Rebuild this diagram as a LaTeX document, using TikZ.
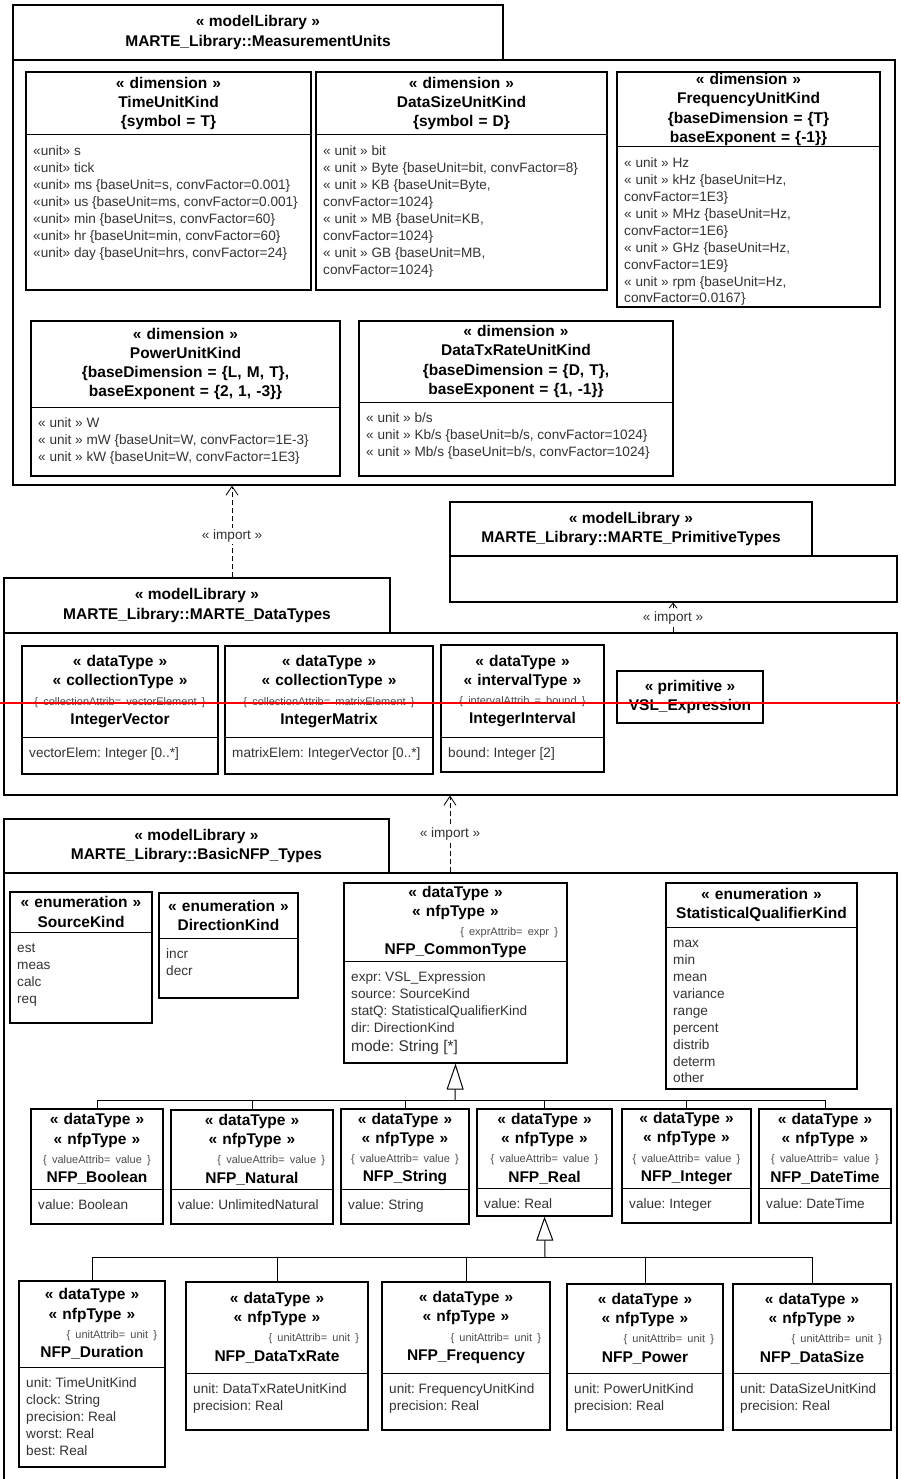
\documentclass[tikz,border=0pt]{standalone}
\usepackage{fontspec}
\setmainfont{Liberation Sans}
\usetikzlibrary{arrows.meta,fit,positioning}
\frenchspacing

\newcommand{\hdrfont}{\fontsize{15.5}{19.3}\selectfont\bfseries}
\newcommand{\attfont}{\fontsize{13.6}{16.9}\selectfont}
\newcommand{\tagfont}{\fontsize{11}{19.3}\selectfont\mdseries\color{black!70}}

% class box: name, x1, y1, x2, y2, divider y, header, attributes
\newcommand{\umlclass}[8]{%
  \node[clsframe, fit={(#2,#3) (#4,#5)}] (#1) {};
  \draw[clsrule] (#1.west |- 0,#6) -- (#1.east |- 0,#6);
  \pgfmathsetmacro{\hdw}{#4-#2-8}
  \node[clshead, text width=\hdw pt] (#1-head) at ({(#2+#4)/2},{(#3+#6)/2}) {#7};
  \node[attrs] (#1-attr) at ({#2+7},{#6+8.7}) {\strut #8};
}
% package: name, tab x1, tab y1, tab x2, tab y2, body x2, body y2, title
\newcommand{\umlpkg}[8]{%
  \node[pkgframe, fit={(#2,#3) (#4,#5)}] (#1-tab) {};
  \node[pkgframe, fit={(#2,#5) (#6,#7)}] (#1) {};
  \node[clshead] (#1-title) at (#1-tab.center) {« modelLibrary »\\#8};
}

\begin{document}
\begin{tikzpicture}[x=1pt, y=-1pt,
    pkgframe/.style={draw, line width=1.1pt, inner sep=0pt},
    clsframe/.style={draw, line width=1.2pt, inner sep=0pt},
    clsrule/.style={line width=1pt},
    clshead/.style={font=\hdrfont, align=center, inner sep=0pt},
    attrs/.style={font=\attfont, align=left, inner sep=0pt, anchor=north west, text=black!80},
    impline/.style={dash pattern=on 5pt off 3pt, line width=0.8pt, -{Straight Barb[length=9pt,width=12pt]}},
    implabel/.style={fill=white, font=\attfont, text=black!80, inner sep=2pt},
    genline/.style={line width=1pt, -{Triangle[open,length=26pt,width=17pt]}},
    busline/.style={line width=1pt}]
\useasboundingbox[fill=white] (0,0) rectangle (900,1479);

% MeasurementUnits
\umlpkg{mu}{13}{5}{503}{60}{895}{485}{MARTE\_Library::MeasurementUnits}
\umlclass{tuk}{26}{72}{311}{290}{135}
  {« dimension »\\TimeUnitKind\\\{symbol = T\}}
  {«unit» s\\«unit» tick\\«unit» ms \{baseUnit=s, convFactor=0.001\}\\«unit» us \{baseUnit=ms, convFactor=0.001\}\\«unit» min \{baseUnit=s, convFactor=60\}\\«unit» hr \{baseUnit=min, convFactor=60\}\\«unit» day \{baseUnit=hrs, convFactor=24\}}
\umlclass{dsuk}{316}{72}{607}{290}{135}
  {« dimension »\\DataSizeUnitKind\\\{symbol = D\}}
  {« unit » bit\\« unit » Byte \{baseUnit=bit, convFactor=8\}\\« unit » KB \{baseUnit=Byte,\\convFactor=1024\}\\« unit » MB \{baseUnit=KB,\\convFactor=1024\}\\« unit » GB \{baseUnit=MB,\\convFactor=1024\}}
\umlclass{fuk}{617}{72}{880}{307}{147}
  {« dimension »\\FrequencyUnitKind\\\{baseDimension = \{T\}\\baseExponent = \{-1\}\}}
  {« unit » Hz\\« unit » kHz \{baseUnit=Hz,\\convFactor=1E3\}\\« unit » MHz \{baseUnit=Hz,\\convFactor=1E6\}\\« unit » GHz \{baseUnit=Hz,\\convFactor=1E9\}\\« unit » rpm \{baseUnit=Hz,\\convFactor=0.0167\}}
\umlclass{puk}{31}{321}{340}{476}{407}
  {« dimension »\\PowerUnitKind\\\{baseDimension = \{L, M, T\},\\baseExponent = \{2, 1, -3\}\}}
  {« unit » W\\« unit » mW \{baseUnit=W, convFactor=1E-3\}\\« unit » kW \{baseUnit=W, convFactor=1E3\}}
\umlclass{dtruk}{359}{321}{673}{476}{402}
  {« dimension »\\DataTxRateUnitKind\\\{baseDimension = \{D, T\},\\baseExponent = \{1, -1\}\}}
  {« unit » b/s\\« unit » Kb/s \{baseUnit=b/s, convFactor=1024\}\\« unit » Mb/s \{baseUnit=b/s, convFactor=1024\}}

% MARTE_PrimitiveTypes
\umlpkg{mpt}{450}{502}{812}{556}{897}{602}{MARTE\_Library::MARTE\_PrimitiveTypes}

% MARTE_DataTypes
\umlpkg{mdt}{4}{578}{390}{633}{897}{795}{MARTE\_Library::MARTE\_DataTypes}
\umlclass{ivec}{22}{646}{218}{774}{737}
  {« dataType »\\« collectionType »\\{\tagfont\{ collectionAttrib= vectorElement \}}\\IntegerVector}
  {vectorElem: Integer [0..*]}
\umlclass{imat}{225}{646}{433}{774}{737}
  {« dataType »\\« collectionType »\\{\tagfont\{ collectionAttrib= matrixElement \}}\\IntegerMatrix}
  {matrixElem: IntegerVector [0..*]}
\umlclass{iint}{441}{645}{604}{772}{737}
  {« dataType »\\« intervalType »\\{\tagfont\{ intervalAttrib = bound \}}\\IntegerInterval}
  {bound: Integer [2]}
\node[clsframe, fit={(617,671) (763,723)}] (vsl) {};
\node[clshead] (vsl-head) at (vsl.center) {« primitive »\\VSL\_Expression};

% BasicNFP_Types
\umlpkg{nfp}{4}{819}{389}{873}{897}{1495}{MARTE\_Library::BasicNFP\_Types}
\umlclass{srck}{10}{892}{152}{1023}{932}
  {« enumeration »\\SourceKind}
  {est\\meas\\calc\\req}
\umlclass{dirk}{159}{893}{298}{998}{938}
  {« enumeration »\\DirectionKind}
  {incr\\decr}
\umlclass{nfpct}{344}{883}{567}{1063}{961}
  {« dataType »\\« nfpType »\\{\tagfont\hspace*{\fill}\{ exprAttrib= expr \}\hspace*{5pt}}\\NFP\_CommonType}
  {expr: VSL\_Expression\\source: SourceKind\\statQ: StatisticalQualifierKind\\dir: DirectionKind\\[2pt]{\fontsize{15.5}{17}\selectfont mode: String [*]}}
\umlclass{sqk}{666}{883}{857}{1089}{927}
  {« enumeration »\\StatisticalQualifierKind}
  {max\\min\\mean\\variance\\range\\percent\\distrib\\determ\\other}

\umlclass{bool}{31}{1109}{163}{1224}{1189}
  {« dataType »\\« nfpType »\\{\tagfont\{ valueAttrib= value \}}\\NFP\_Boolean}
  {value: Boolean}
\umlclass{nat}{171}{1110}{333}{1224}{1189}
  {« dataType »\\« nfpType »\\{\tagfont\hspace*{\fill}\{ valueAttrib= value \}\hspace*{4pt}}\\NFP\_Natural}
  {value: UnlimitedNatural}
\umlclass{str}{341}{1109}{469}{1224}{1189}
  {« dataType »\\« nfpType »\\{\tagfont\{ valueAttrib= value \}}\\NFP\_String}
  {value: String}
\umlclass{real}{477}{1109}{612}{1216}{1188}
  {« dataType »\\« nfpType »\\{\tagfont\{ valueAttrib= value \}}\\NFP\_Real}
  {value: Real}
\umlclass{int}{622}{1109}{751}{1223}{1188}
  {« dataType »\\« nfpType »\\{\tagfont\{ valueAttrib= value \}}\\NFP\_Integer}
  {value: Integer}
\umlclass{dtime}{759}{1109}{891}{1223}{1188}
  {« dataType »\\« nfpType »\\{\tagfont\{ valueAttrib= value \}}\\NFP\_DateTime}
  {value: DateTime}

\umlclass{dur}{19}{1281}{165}{1467}{1367}
  {« dataType »\\« nfpType »\\{\tagfont\hspace*{\fill}\{ unitAttrib= unit \}\hspace*{4pt}}\\NFP\_Duration}
  {unit: TimeUnitKind\\clock: String\\precision: Real\\worst: Real\\best: Real}
\umlclass{dtr}{186}{1282}{368}{1430}{1373}
  {« dataType »\\« nfpType »\\{\tagfont\hspace*{\fill}\{ unitAttrib= unit \}\hspace*{5pt}}\\NFP\_DataTxRate}
  {unit: DataTxRateUnitKind\\precision: Real}
\umlclass{freq}{382}{1282}{550}{1430}{1373}
  {« dataType »\\« nfpType »\\{\tagfont\hspace*{\fill}\{ unitAttrib= unit \}\hspace*{5pt}}\\NFP\_Frequency}
  {unit: FrequencyUnitKind\\precision: Real}
\umlclass{pow}{567}{1284}{723}{1430}{1373}
  {« dataType »\\« nfpType »\\{\tagfont\hspace*{\fill}\{ unitAttrib= unit \}\hspace*{5pt}}\\NFP\_Power}
  {unit: PowerUnitKind\\precision: Real}
\umlclass{dsz}{733}{1284}{891}{1430}{1373}
  {« dataType »\\« nfpType »\\{\tagfont\hspace*{\fill}\{ unitAttrib= unit \}\hspace*{5pt}}\\NFP\_DataSize}
  {unit: DataSizeUnitKind\\precision: Real}

% imports
\draw[impline] (mdt-tab.north -| 232,0) -- (mu.south -| 232,0) node[pos=0.45, implabel] {« import »};
\draw[impline, -{Straight Barb[length=5pt,width=8pt]}] (mdt.north -| 673,0) -- (mpt.south -| 673,0) node[midway, implabel] {« import »};
\draw[impline] (nfp.north -| 450,0) -- (mdt.south -| 450,0) node[midway, implabel] {« import »};

% generalizations
\coordinate (busA) at (455,1100);
\draw[genline] (busA) -- (nfpct.south);
\foreach \c in {bool,nat,str,real,int,dtime}
  \draw[busline] (\c.north) |- (busA);
\coordinate (busB) at (545,1257);
\draw[genline, -{Triangle[open,length=24pt,width=17pt]}] (busB) -- (real.south);
\foreach \c in {dur,dtr,freq,pow,dsz}
  \draw[busline] (\c.north) |- (busB);

% red mark across the picture
\draw[red, line width=2.5pt] (0,703) -- (900,703);
\end{tikzpicture}
\end{document}
